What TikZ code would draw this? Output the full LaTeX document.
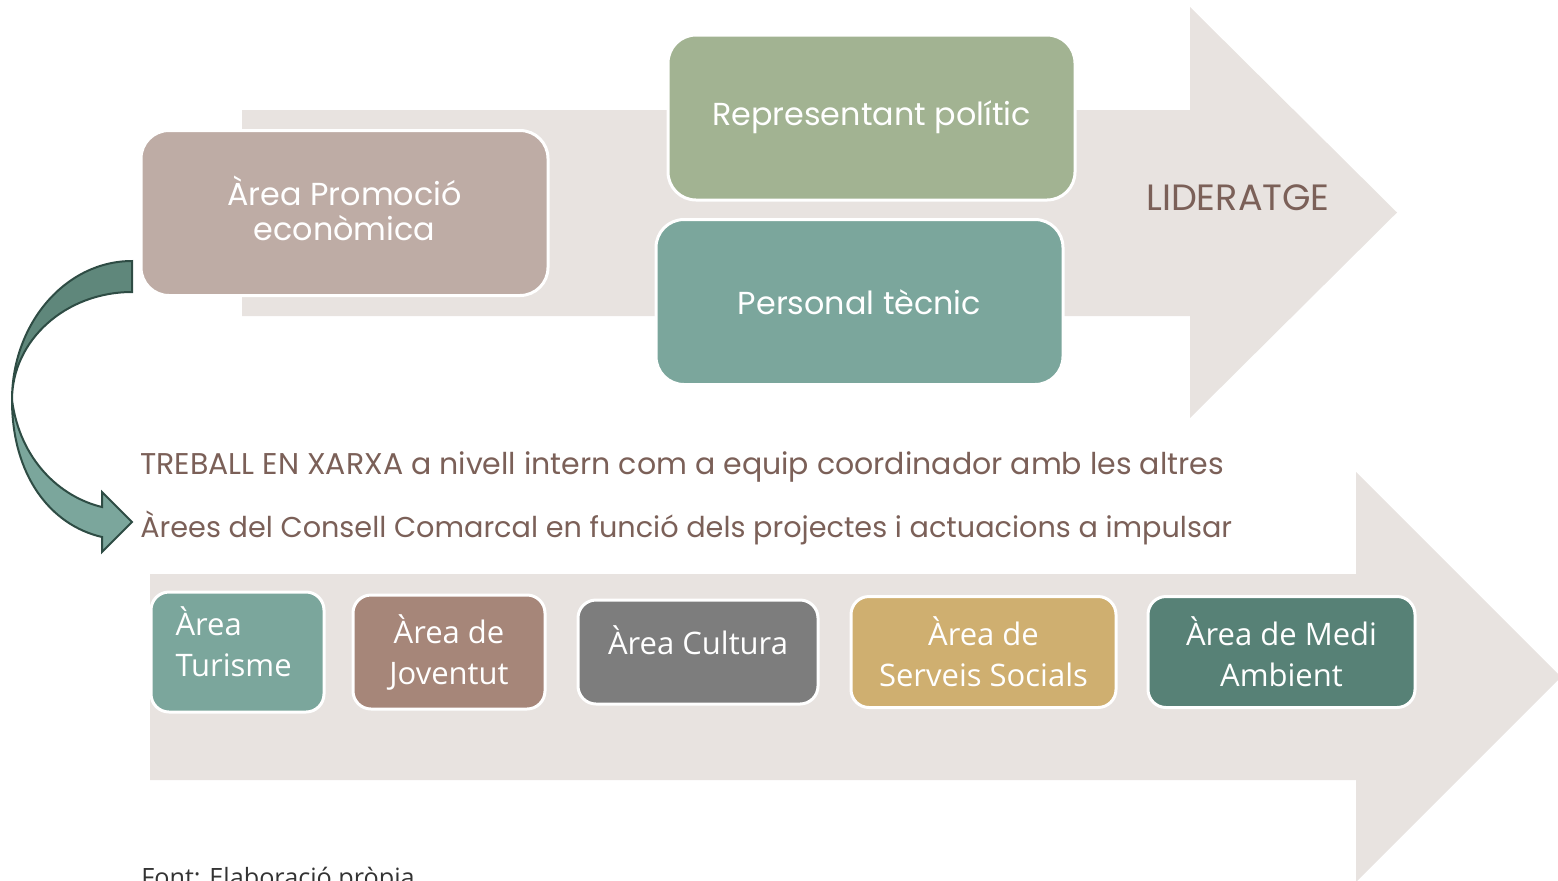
\documentclass[tikz,border=0pt]{standalone}
\usepackage{fontspec}
\setmainfont{Poppins}
\newfontfamily\areafont{Open Sans}
\usetikzlibrary{positioning}
\definecolor{arrowbg}{RGB}{232,227,224}
\definecolor{textbrown}{RGB}{123,96,88}
\definecolor{promobg}{RGB}{190,172,165}
\definecolor{politicgreen}{RGB}{162,179,146}
\definecolor{tealbg}{RGB}{123,166,156}
\definecolor{joventbg}{RGB}{166,134,121}
\definecolor{culturagray}{RGB}{125,125,125}
\definecolor{socialsgold}{RGB}{207,175,112}
\definecolor{medigreen}{RGB}{87,129,118}
\definecolor{curvedark}{RGB}{95,135,123}
\definecolor{curveline}{RGB}{46,76,68}

\begin{document}
\begin{tikzpicture}[x=0.5pt,y=-0.5pt,node distance=16pt,
  topbox/.style={draw=white,line width=1.5pt,rounded corners=14pt,text=white,minimum width=203.5pt,minimum height=82.5pt,font=\fontsize{15.9}{17.5}\selectfont,align=center},
  areabox/.style={draw=white,line width=1.5pt,rounded corners=9pt,text=white,font=\areafont\fontsize{15.5}{20.5}\selectfont,align=center}]
    \clip (0,0) rectangle (1558,880);
    % background arrows
    \fill[arrowbg] (242,110) -- (1190,110) -- (1190,7) -- (1397,212.5) -- (1190,418) -- (1190,316) -- (242,316) -- cycle;
    \fill[arrowbg] (150,574) -- (1356,574) -- (1356,472) -- (1561,677) -- (1356,882) -- (1356,780) -- (150,780) -- cycle;
    % leadership
    \node[topbox,fill=promobg,text depth=5pt] (prom) at (344.5,213) {Àrea Promoció\\econòmica};
    \node[topbox,fill=politicgreen] (repr) at (871.5,117.5) {Representant polític};
    \node[topbox,fill=tealbg] (tecn) at (859.5,302) {Personal tècnic};
    \node[text=textbrown,font=\fontsize{18.3}{20}\selectfont] (lider) at (1238,198) {LIDERATGE};
    % curved arrow
    \filldraw[fill=curvedark,draw=curveline,line width=1pt] (132,261) .. controls (66,261) and (12,323) .. (12,400) .. controls (12,340) and (66,292) .. (132,292) -- cycle;
    \filldraw[fill=tealbg,draw=curveline,line width=1pt] (12,400) .. controls (12,475) and (50,525) .. (102,537) -- (102,552) -- (132,522) -- (102,492) -- (102,507) .. controls (60,497) and (20,460) .. (12,400) -- cycle;
    % network text
    \node[anchor=west,text=textbrown,font=\fontsize{15}{17}\selectfont,inner sep=0pt] (xarxa) at (140,467) {TREBALL EN XARXA a nivell intern com a equip coordinador amb les altres};
    \node[anchor=west,text=textbrown,font=\fontsize{14.35}{17}\selectfont,inner sep=0pt] (arees) at (140,528) {Àrees del Consell Comarcal en funció dels projectes i actuacions a impulsar};
    % areas
    \node[areabox,fill=tealbg,minimum width=86.5pt,minimum height=60pt,align=left,text width=62pt,text depth=31pt] (tur) at (237.5,652) {Àrea\\Turisme};
    \node[areabox,fill=joventbg,minimum width=96pt,minimum height=57pt,right=13pt of tur] (jov) {Àrea de\\Joventut};
    \node[areabox,fill=culturagray,minimum width=120pt,minimum height=52pt,text depth=12pt,right=15pt of jov] (cult) {Àrea Cultura};
    \node[areabox,fill=socialsgold,minimum width=132.5pt,minimum height=55.5pt,right=15pt of cult] (serv) {Àrea de\\Serveis Socials};
    \node[areabox,fill=medigreen,minimum width=133.5pt,minimum height=55.5pt,right=14.5pt of serv] (medi) {Àrea de Medi\\Ambient};
    \node[anchor=base west,text=black!80,font=\areafont\fontsize{12.6}{14}\selectfont,inner sep=0pt] (font) at (141,886) {Font: Elaboració pròpia};
  \end{tikzpicture}
\end{document}
